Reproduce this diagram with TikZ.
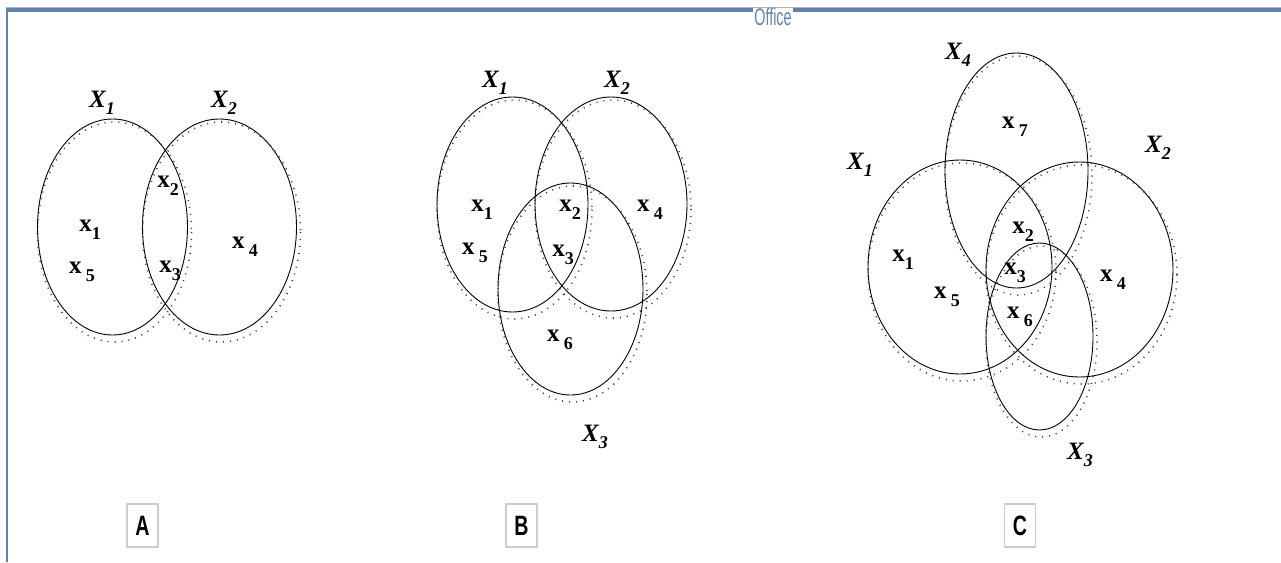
\documentclass[tikz,border=0pt]{standalone}
\usepackage{fontspec}
\setmainfont{Liberation Serif}
\setsansfont{Liberation Sans}
\usetikzlibrary{calc}
\definecolor{frameblue}{RGB}{95,130,178}
\definecolor{framegray}{RGB}{175,180,190}
\newcommand{\sbs}[1]{\raisebox{-0.3em}{\fontsize{18}{18}\selectfont #1}}
\tikzset{
  venn/.style={draw=black, line width=0.9pt},
  vdots/.style={draw=black!75, line width=1.6pt, dash pattern=on 1pt off 6pt},
  setlab/.style={font=\fontsize{25}{25}\selectfont\itshape\bfseries, inner sep=0pt},
  elem/.style={font=\fontsize{25}{25}\selectfont\bfseries, inner sep=0pt},
  panel/.style={draw=black!20, line width=1.2pt, minimum width=31pt, minimum height=43pt, inner sep=0pt, font=\sffamily\bfseries\fontsize{28}{28}\selectfont}
}
\newcommand{\vennell}[4]{%
  \draw[venn] (#1,#2) ellipse [x radius=#3, y radius=#4];
  \draw[vdots] ($(#1,#2)+(2,5)$) ellipse [x radius=#3+2, y radius=#4+2];
}
\begin{document}
\begin{tikzpicture}[x=1pt,y=-1pt]
\useasboundingbox (0,0) rectangle (1281,562);
\fill[white] (0,0) rectangle (1281,562);
% frame
\draw[framegray, line width=1pt] (6,7.5) -- (1281,7.5);
\draw[frameblue, line width=3.5pt] (6,10) -- (1281,10);
\draw[frameblue, line width=2.5pt] (7.2,8) -- (7.2,562);
\node[fill=white, inner xsep=1pt, inner ysep=0pt, text=frameblue, font=\sffamily\fontsize{24}{24}\selectfont] (office) at (773,17) {\scalebox{0.6}[1]{Office}};

% ---------- A ----------
\vennell{112.5}{227}{75}{108}
\vennell{219.5}{227}{77}{108}
\node[setlab] (aX1) at (102,103) {X\sbs{1}};
\node[setlab] (aX2) at (224,103) {X\sbs{2}};
\node[elem] (ax2) at (168,186) {x\sbs{2}};
\node[elem] (ax1) at (90,230) {x\sbs{1}};
\node[elem] (ax5) at (82,272) {x\,\sbs{5}};
\node[elem] (ax3) at (170,271) {x\sbs{3}};
\node[elem] (ax4) at (245,247) {x\,\sbs{4}};
\node[panel] (pA) at (142.5,525.5) {\scalebox{0.7}[1]{A}};

% ---------- B ----------
\vennell{512.5}{204.5}{75.5}{107.5}
\vennell{611}{204}{76}{107}
\vennell{570.5}{289}{72.5}{106}
\node[setlab] (bX1) at (495,83) {X\sbs{1}};
\node[setlab] (bX2) at (617,83) {X\sbs{2}};
\node[setlab] (bX3) at (595,437) {X\sbs{3}};
\node[elem] (bx1) at (482,210) {x\sbs{1}};
\node[elem] (bx5) at (475,253) {x\,\sbs{5}};
\node[elem] (bx2) at (570,210) {x\sbs{2}};
\node[elem] (bx3) at (563,255) {x\sbs{3}};
\node[elem] (bx4) at (650,210) {x\,\sbs{4}};
\node[elem] (bx6) at (560,340) {x\,\sbs{6}};
\node[panel] (pB) at (521.5,525.5) {\scalebox{0.7}[1]{B}};

% ---------- C ----------
\vennell{1016.5}{170.5}{71.5}{117.5}
\vennell{960}{267}{92}{107}
\vennell{1079.5}{269.5}{93.5}{107.5}
\vennell{1039.5}{336.5}{53.5}{93.5}
\node[setlab] (cX4) at (958,55) {X\sbs{4}};
\node[setlab] (cX1) at (860,165) {X\sbs{1}};
\node[setlab] (cX2) at (1158,148) {X\sbs{2}};
\node[setlab] (cX3) at (1080,455) {X\sbs{3}};
\node[elem] (cx7) at (1015,127) {x\,\sbs{7}};
\node[elem] (cx1) at (903,260) {x\sbs{1}};
\node[elem] (cx5) at (947,297) {x\,\sbs{5}};
\node[elem] (cx2) at (1023,232) {x\sbs{2}};
\node[elem] (cx3) at (1015,273) {x\sbs{3}};
\node[elem] (cx6) at (1020,317) {x\,\sbs{6}};
\node[elem] (cx4) at (1113,280) {x\,\sbs{4}};
\node[panel] (pC) at (1020,525.5) {\scalebox{0.7}[1]{C}};
\end{tikzpicture}
\end{document}
